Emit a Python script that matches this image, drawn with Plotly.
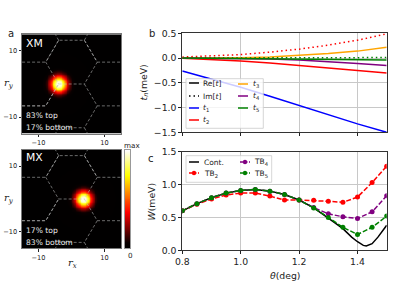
import numpy as np
import plotly.graph_objects as go

theta_b = [0.8, 0.9, 1.0, 1.1, 1.2, 1.3, 1.4, 1.5]
t1_re = [-0.26, -0.42, -0.59, -0.77, -0.96, -1.15, -1.33, -1.50]
t2_re = [-0.005, -0.03, -0.06, -0.10, -0.15, -0.20, -0.24, -0.30]
t3_re = [0.0, 0.0, 0.005, 0.02, 0.05, 0.09, 0.14, 0.22]
t4_re = [0.0, -0.005, -0.01, -0.02, -0.04, -0.07, -0.11, -0.15]
t5_re = [0.0, -0.005, -0.01, -0.015, -0.02, -0.025, -0.03, -0.04]
t2_im = [0.02, 0.04, 0.07, 0.12, 0.18, 0.26, 0.36, 0.49]
t5_im = [0.0, 0.0, 0.005, 0.01, 0.01, 0.01, 0.01, 0.01]

theta_c = [0.8, 0.85, 0.9, 0.95, 1.0, 1.05, 1.1, 1.15, 1.2, 1.25, 1.3, 1.35, 1.4, 1.45, 1.5]
tb2 = [0.60, 0.70, 0.78, 0.84, 0.87, 0.87, 0.825, 0.765, 0.765, 0.76, 0.745, 0.73, 0.81, 1.03, 1.28]
tb4 = [0.60, 0.71, 0.80, 0.87, 0.91, 0.925, 0.90, 0.85, 0.765, 0.65, 0.555, 0.51, 0.485, 0.585, 0.83]
tb5 = [0.60, 0.71, 0.80, 0.87, 0.91, 0.925, 0.90, 0.85, 0.765, 0.645, 0.50, 0.35, 0.24, 0.35, 0.52]
theta_cont = [0.8, 0.85, 0.9, 0.95, 1.0, 1.05, 1.1, 1.15, 1.2, 1.25, 1.3, 1.35, 1.38, 1.4, 1.42, 1.43, 1.45, 1.47, 1.5]
cont = [0.60, 0.71, 0.80, 0.87, 0.91, 0.925, 0.90, 0.85, 0.765, 0.645, 0.49, 0.33, 0.20, 0.13, 0.075, 0.065, 0.10, 0.20, 0.38]

# radial brightness of the Wannier spot
spot_r = [0, 0.8, 1.5, 2.0, 2.5, 3.0, 3.6, 4.3, 5.2, 30]
spot_v = [1.0, 0.95, 0.75, 0.55, 0.37, 0.24, 0.12, 0.05, 0.01, 0.0]
spot_xm = (-3.9, 0.0)
spot_mx = (3.6, 0.0)
grid_axis = np.linspace(-15, 15, 121)

hx = [[-18, -7.8, -3.9, 3.9, 7.8, 18], [-3.9, -7.8, -3.9], [3.9, 7.8, 3.9], [-3.9, 3.9],
      [-18, -7.8, -3.9, -7.8, -18], [3.9, 7.8, 18], [7.8, 3.9],
      [-3.9, 3.9], [-3.9, -4.9], [3.9, 4.9], [-3.9, -4.9], [3.9, 4.9]]
hy = [[6.6, 6.6, 13.2, 13.2, 6.6, 6.6], [13.2, 6.6, 0], [13.2, 6.6, 0], [0, 0],
      [-6.6, -6.6, 0, -6.6, -6.6], [0, -6.6, -6.6], [-6.6, -13.2],
      [-13.2, -13.2], [13.2, 15], [13.2, 15], [-13.2, -15], [-13.2, -15]]

W, H = 415, 282
def dom(a, b, size):
    return [a / size, b / size]
def ydom(top, bot):
    return [1 - bot / H, 1 - top / H]

fig = go.Figure()
FONT = "DejaVu Sans"
TXT = "#222222"

def spot(c):
    X, Y = np.meshgrid(grid_axis, grid_axis)
    R = np.hypot(X - c[0], Y - c[1])
    return np.interp(R, spot_r, spot_v)

hot = [[0, "#000000"], [0.06, "#0b0000"], [0.365, "#ff0000"], [0.746, "#ffff00"], [1, "#ffffff"]]

for n, (c, xa, ya) in enumerate([(spot_xm, "x", "y"), (spot_mx, "x2", "y2")]):
    fig.add_trace(go.Heatmap(x=grid_axis, y=grid_axis, z=spot(c), xaxis=xa, yaxis=ya, colorscale=hot,
                             zmin=0, zmax=1, showscale=False, zsmooth="best", hoverinfo="skip"))
    for sx, sy in zip(hx, hy):
        fig.add_trace(go.Scatter(x=sx, y=sy, xaxis=xa, yaxis=ya, mode="lines", showlegend=False,
                                 line=dict(color="rgba(190,190,190,0.7)", width=0.8, dash="3px,2px"), hoverinfo="skip"))

# colorbar as a narrow heatmap on its own axes
cb = np.linspace(0, 1, 100)
fig.add_trace(go.Heatmap(x=[0, 1], y=cb, z=np.column_stack([cb, cb]), xaxis="x5", yaxis="y5", colorscale=hot,
                         zmin=0, zmax=1, showscale=False, hoverinfo="skip", zsmooth="best"))

def line(x, y, color, xa, ya, dash="solid", width=1.5, marker=False):
    fig.add_trace(go.Scatter(x=x, y=y, xaxis=xa, yaxis=ya, showlegend=False,
                             mode="lines+markers" if marker else "lines",
                             marker=dict(size=5, color=color),
                             line=dict(color=color, width=width, dash=dash)))

line(theta_b, t1_re, "#0000ff", "x3", "y3")
line(theta_b, t2_re, "#ff0000", "x3", "y3")
line(theta_b, t3_re, "#ffa500", "x3", "y3")
line(theta_b, t4_re, "#800080", "x3", "y3")
line(theta_b, t5_re, "#008000", "x3", "y3")
line(theta_b, t2_im, "#ff0000", "x3", "y3", dash="1.5px,3px")
line(theta_b, t5_im, "#008000", "x3", "y3", dash="1.5px,3px")

line(theta_cont, cont, "#000000", "x4", "y4", width=1.5)
line(theta_c, tb2, "#ff0000", "x4", "y4", dash="5px,2px", marker=True)
line(theta_c, tb4, "#800080", "x4", "y4", dash="5px,2px", marker=True)
line(theta_c, tb5, "#008000", "x4", "y4", dash="5px,2px", marker=True)

tick = dict(tickfont=dict(size=6.6, family=FONT, color=TXT), ticks="outside", ticklen=2.5, tickwidth=0.8,
            tickcolor=TXT, showline=True, linecolor="#777777", linewidth=1, mirror=True, showgrid=False,
            zeroline=False)
hm_tick = dict(range=[-15, 15], tickvals=[-10, 10], ticktext=["−10", "10"], **tick)
tick2 = dict(tickfont=dict(size=9.3, family=FONT, color=TXT), ticks="outside", ticklen=3, tickwidth=0.8,
             tickcolor=TXT, showline=True, linecolor="#333333", linewidth=1, mirror=True, showgrid=True,
             gridcolor="#c8c8c8", gridwidth=1.2, zeroline=False)
xt = [0.8, 1.0, 1.2, 1.4]

fig.update_layout(
    width=W, height=H, margin=dict(l=0, r=0, t=0, b=0, autoexpand=False), paper_bgcolor="white", plot_bgcolor="white",
    font=dict(family=FONT, color=TXT), showlegend=False,
    xaxis=dict(domain=dom(22, 121, W), anchor="y", **hm_tick),
    yaxis=dict(domain=ydom(34.3, 133.7), anchor="x", **hm_tick),
    xaxis2=dict(domain=dom(22, 121, W), anchor="y2", **hm_tick),
    yaxis2=dict(domain=ydom(149.7, 248.3), anchor="x2", **hm_tick),
    xaxis3=dict(domain=dom(182.3, 386.7, W), anchor="y3", range=[0.8, 1.5], tickvals=xt, showticklabels=False, **tick2),
    yaxis3=dict(domain=ydom(33.3, 132.3), anchor="x3", range=[-1.5, 0.5], tickvals=[-1.5, -1, -0.5, 0, 0.5],
                ticktext=["−1.5", "−1.0", "−0.5", "0.0", "0.5"], **tick2),
    xaxis4=dict(domain=dom(182.3, 386.7, W), anchor="y4", range=[0.8, 1.5], tickvals=xt,
                ticktext=["0.8", "1.0", "1.2", "1.4"], **tick2),
    yaxis4=dict(domain=ydom(151.7, 250.3), anchor="x4", range=[0, 1.5], tickvals=[0, 0.5, 1, 1.5],
                ticktext=["0.0", "0.5", "1.0", "1.5"], **tick2),
    xaxis5=dict(domain=dom(124.7, 130.3, W), anchor="y5", range=[0, 1], showticklabels=False, ticks="",
                showline=True, mirror=True, linecolor="#999999", linewidth=1, showgrid=False, zeroline=False),
    yaxis5=dict(domain=ydom(150, 248), anchor="x5", range=[0, 1], showticklabels=False, ticks="",
                showline=True, mirror=True, linecolor="#999999", linewidth=1, showgrid=False, zeroline=False),
)

def text(x, y, s, size=7, color=TXT, anchor="left", family=FONT, angle=0):
    if anchor == "left":
        x -= 1.5
    fig.add_annotation(x=x / W, y=1 - y / H, xref="paper", yref="paper", text=s, showarrow=False,
                       xanchor=anchor, yanchor="middle", textangle=angle, align="left",
                       font=dict(size=size, color=color, family=family), borderpad=0)

SERIF = "DejaVu Serif"
text(8.5, 34, "a", 10)
text(149.5, 34, "b", 10)
text(148.5, 158, "c", 10)
text(26.5, 43, "XM", 10.8, "white")
text(26, 157, "MX", 10.8, "white")
text(26.5, 115, "83% top", 7.6, "#e8e8e8")
text(26.5, 127, "17% bottom", 7.6, "#e8e8e8")
text(26, 230, "17% top", 7.6, "#e8e8e8")
text(26, 242, "83% bottom", 7.6, "#e8e8e8")
text(8.5, 83, "<i>r<sub>y</sub></i>", 10, TXT, "center", SERIF)
text(8.5, 198, "<i>r<sub>y</sub></i>", 10, TXT, "center", SERIF)
text(72, 263, "<i>r<sub>x</sub></i>", 10, TXT, "center", SERIF)
text(132, 145, "max", 7.2, TXT, "center")
text(130.5, 255, "0", 7.2, TXT, "center")
text(143.5, 83, "<i>t<sub>n</sub></i>(meV)", 9.3, TXT, "center", angle=-90)
text(151, 201.5, "<i>W</i>(meV)", 9.3, TXT, "center", angle=-90)
text(284.5, 275, "<i>θ</i>(deg)", 9.3, TXT, "center")

def rect(x0, y0, x1, y1):
    fig.add_shape(type="rect", xref="paper", yref="paper", layer="above", x0=x0 / W, x1=x1 / W,
                  y0=1 - y0 / H, y1=1 - y1 / H, fillcolor="rgba(255,255,255,0.8)",
                  line=dict(color="#cccccc", width=0.8))
def key(x0, x1, y, color, dash="solid", width=1.5, marker=False):
    fig.add_shape(type="line", xref="paper", yref="paper", layer="above", x0=x0 / W, x1=x1 / W,
                  y0=1 - y / H, y1=1 - y / H, line=dict(color=color, width=width, dash=dash))
    if marker:
        xm, r = (x0 + x1) / 2, 2.2
        fig.add_shape(type="circle", xref="paper", yref="paper", layer="above", x0=(xm - r) / W, x1=(xm + r) / W,
                      y0=1 - (y + r) / H, y1=1 - (y - r) / H, fillcolor=color, line=dict(color=color, width=0))

# legend of panel b
rect(186, 78.7, 263.3, 128.3)
for lbl, col, dash, y in [("Re[<i>t</i>]", "#000000", "solid", 83), ("Im[<i>t</i>]", "#000000", "1.5px,3px", 96),
                          ("<i>t</i><sub>1</sub>", "#0000ff", "solid", 108), ("<i>t</i><sub>2</sub>", "#ff0000", "solid", 120)]:
    key(189, 199, y, col, dash)
    text(203, y, lbl, 7.5)
for lbl, col, y in [("<i>t</i><sub>3</sub>", "#ffa500", 84), ("<i>t</i><sub>4</sub>", "#800080", 96),
                    ("<i>t</i><sub>5</sub>", "#008000", 108)]:
    key(238, 248, y, col)
    text(253, y, lbl, 7.5)

# legend of panel c
rect(186, 155.7, 271.7, 182.3)
key(189, 199, 162, "#000000")
text(204, 162, "Cont.", 7.5)
key(189, 199, 173, "#ff0000", "3px,1.5px", marker=True)
text(204, 173.5, "TB<sub>2</sub>", 7.5)
key(240, 250, 162, "#800080", "3px,1.5px", marker=True)
text(254, 162, "TB<sub>4</sub>", 7.5)
key(240, 250, 173, "#008000", "3px,1.5px", marker=True)
text(254, 173.5, "TB<sub>5</sub>", 7.5)

fig.write_html("out.html", config={"displayModeBar": False},
               post_script="document.body.style.margin='0';document.documentElement.style.overflow='hidden';")
